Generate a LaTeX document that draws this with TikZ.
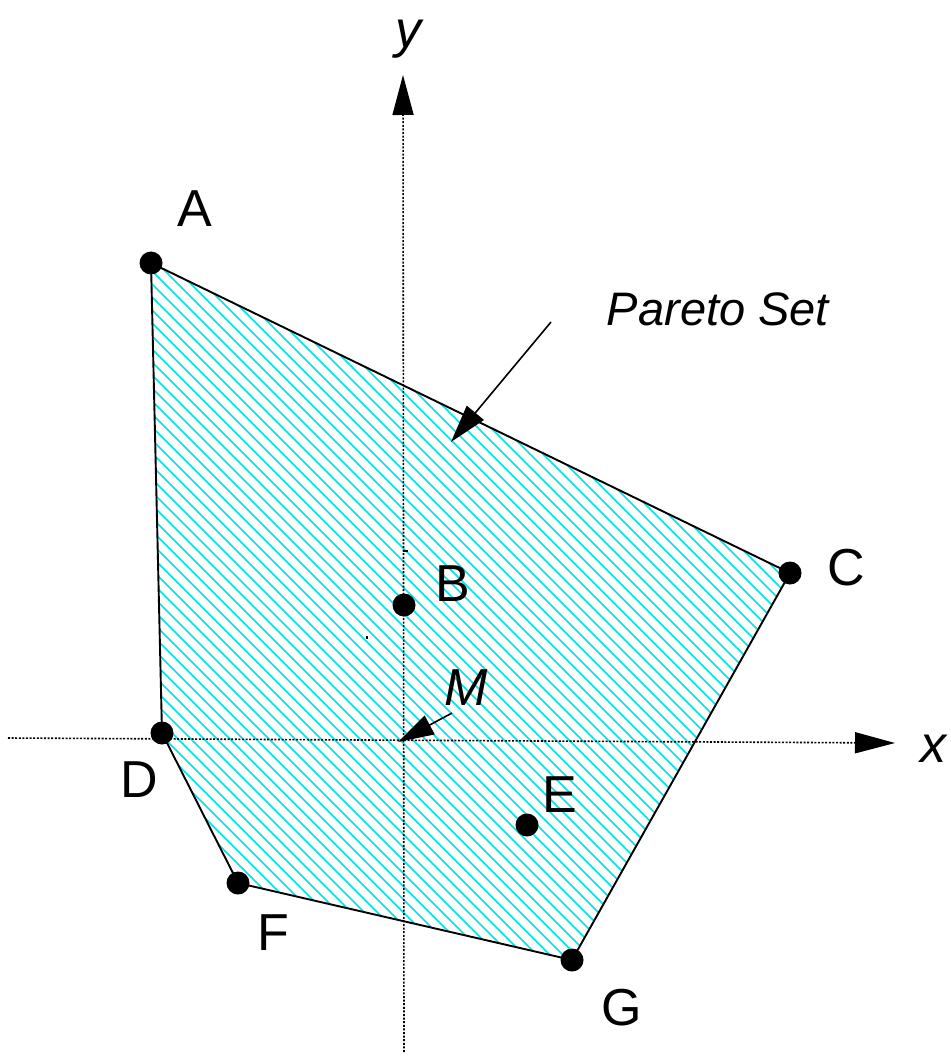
\documentclass[tikz,border=0pt]{standalone}
\usepackage{fontspec}
\setmainfont{Liberation Sans}
\usetikzlibrary{arrows.meta}
\tikzset{
  dotpt/.style={circle,fill=black,inner sep=0pt,minimum size=23pt},
  lbl/.style={anchor=base,inner sep=0pt,font=\fontsize{52}{56}\selectfont},
  ilbl/.style={anchor=base,inner sep=0pt,font=\fontsize{52}{56}\selectfont\itshape},
  hatch/.style={draw={rgb,255:red,0;green,228;blue,232},line width=1.5pt},
  edge/.style={line width=1.9pt},
  axis/.style={line width=1.6pt,dash pattern=on 2pt off 1.6pt,-{Triangle[length=40pt,width=21pt]}},
  pointer/.style={line width=1.6pt,-{Triangle[length=38pt,width=22pt]}}
}
\begin{document}
\begin{tikzpicture}[x=1pt,y=-1pt]
\useasboundingbox (0,0) rectangle (950,1056);
\coordinate (pA) at (151,263);
\coordinate (pB) at (404,605);
\coordinate (pC) at (790,573);
\coordinate (pD) at (162,733);
\coordinate (pE) at (527,825);
\coordinate (pF) at (238,883);
\coordinate (pG) at (572,960);
% hatched region
\begin{scope}
\clip (pA)--(pC)--(pG)--(pF)--(pD)--cycle;
\foreach \c in {-860,-847,...,570} \draw[hatch] (\c+150,150) -- (\c+1050,1050);
\end{scope}
% axes
\coordinate (xl) at (8,738);
\coordinate (xr) at (895,743);
\coordinate (yb) at (404,1052);
\coordinate (yt) at (403,75);
\draw[axis] (xl) -- (xr);
\draw[axis] (yb) -- (yt);
% edges
\draw[edge] (pA)--(pC)--(pG)--(pF)--(pD)--cycle;
% points
\node[dotpt] (A) at (pA) {};
\node[dotpt] (B) at (pB) {};
\node[dotpt] (C) at (pC) {};
\node[dotpt] (D) at (pD) {};
\node[dotpt] (E) at (pE) {};
\node[dotpt] (F) at (pF) {};
\node[dotpt] (G) at (pG) {};
% small marks
\fill (366,636) rectangle (368,639);
\fill (403,550) rectangle (408,552);
% labels
\node[lbl] (lA) at (195,227) {A};
\node[lbl] (lB) at (453,601) {B};
\node[lbl] (lC) at (846,585) {C};
\node[lbl] (lD) at (139,797) {D};
\node[lbl] (lE) at (560,812) {E};
\node[lbl] (lF) at (273,950) {F};
\node[lbl] (lG) at (622,1025) {G};
\node[ilbl] (lM) at (466,705) {M};
\node[ilbl] (ly) at (408,48) {y};
\node[ilbl] (lx) at (933,762) {x};
\node[anchor=base,inner sep=0pt,font=\fontsize{47}{52}\selectfont\itshape] (lP) at (718,325) {Pareto Set};
% pointer arrows
\coordinate (ps) at (551,322);
\coordinate (pt) at (451,442);
\draw[pointer] (ps) -- (pt);
\coordinate (ms) at (452,713);
\coordinate (mo) at (398,742);
\draw[pointer,-{Triangle[length=36pt,width=21pt]}] (ms) -- (mo);
\end{tikzpicture}
\end{document}
